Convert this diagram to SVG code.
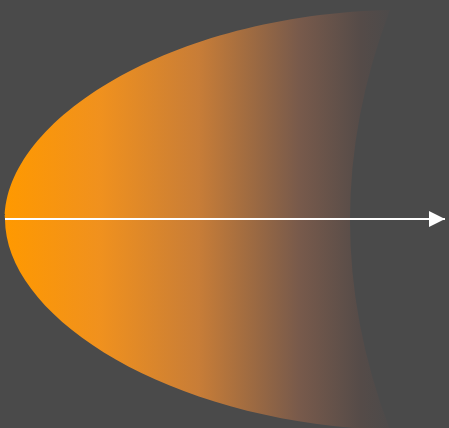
<svg xmlns="http://www.w3.org/2000/svg" width="449" height="428" viewBox="0 0 449 428">
<defs>
<linearGradient id="g" gradientUnits="userSpaceOnUse" x1="5" y1="0" x2="392" y2="0">
<stop offset="0" stop-color="#ff9900"/>
<stop offset="0.245" stop-color="#f0911e"/>
<stop offset="0.5" stop-color="#c87d37"/>
<stop offset="0.76" stop-color="#785a4b"/>
<stop offset="0.92" stop-color="#554b48"/>
<stop offset="1" stop-color="#4c4a4a"/>
</linearGradient>
<marker id="ah" markerWidth="16" markerHeight="16" refX="16" refY="8" orient="auto" markerUnits="userSpaceOnUse">
<path d="M0,0 L16,8 L0,16 Z" fill="#ffffff"/>
</marker>
</defs>
<rect width="449" height="428" fill="#4a4a4a"/>
<g id="shape">
<path d="M390,10 C170,15 5,120 5,219 C5,318 170,423 390,430 Q310,220 390,10 Z" fill="url(#g)"/>
</g>
<g id="connectors">
<line x1="5" y1="219" x2="445" y2="219" stroke="#ffffff" stroke-width="2" marker-end="url(#ah)"/>
</g>
</svg>
